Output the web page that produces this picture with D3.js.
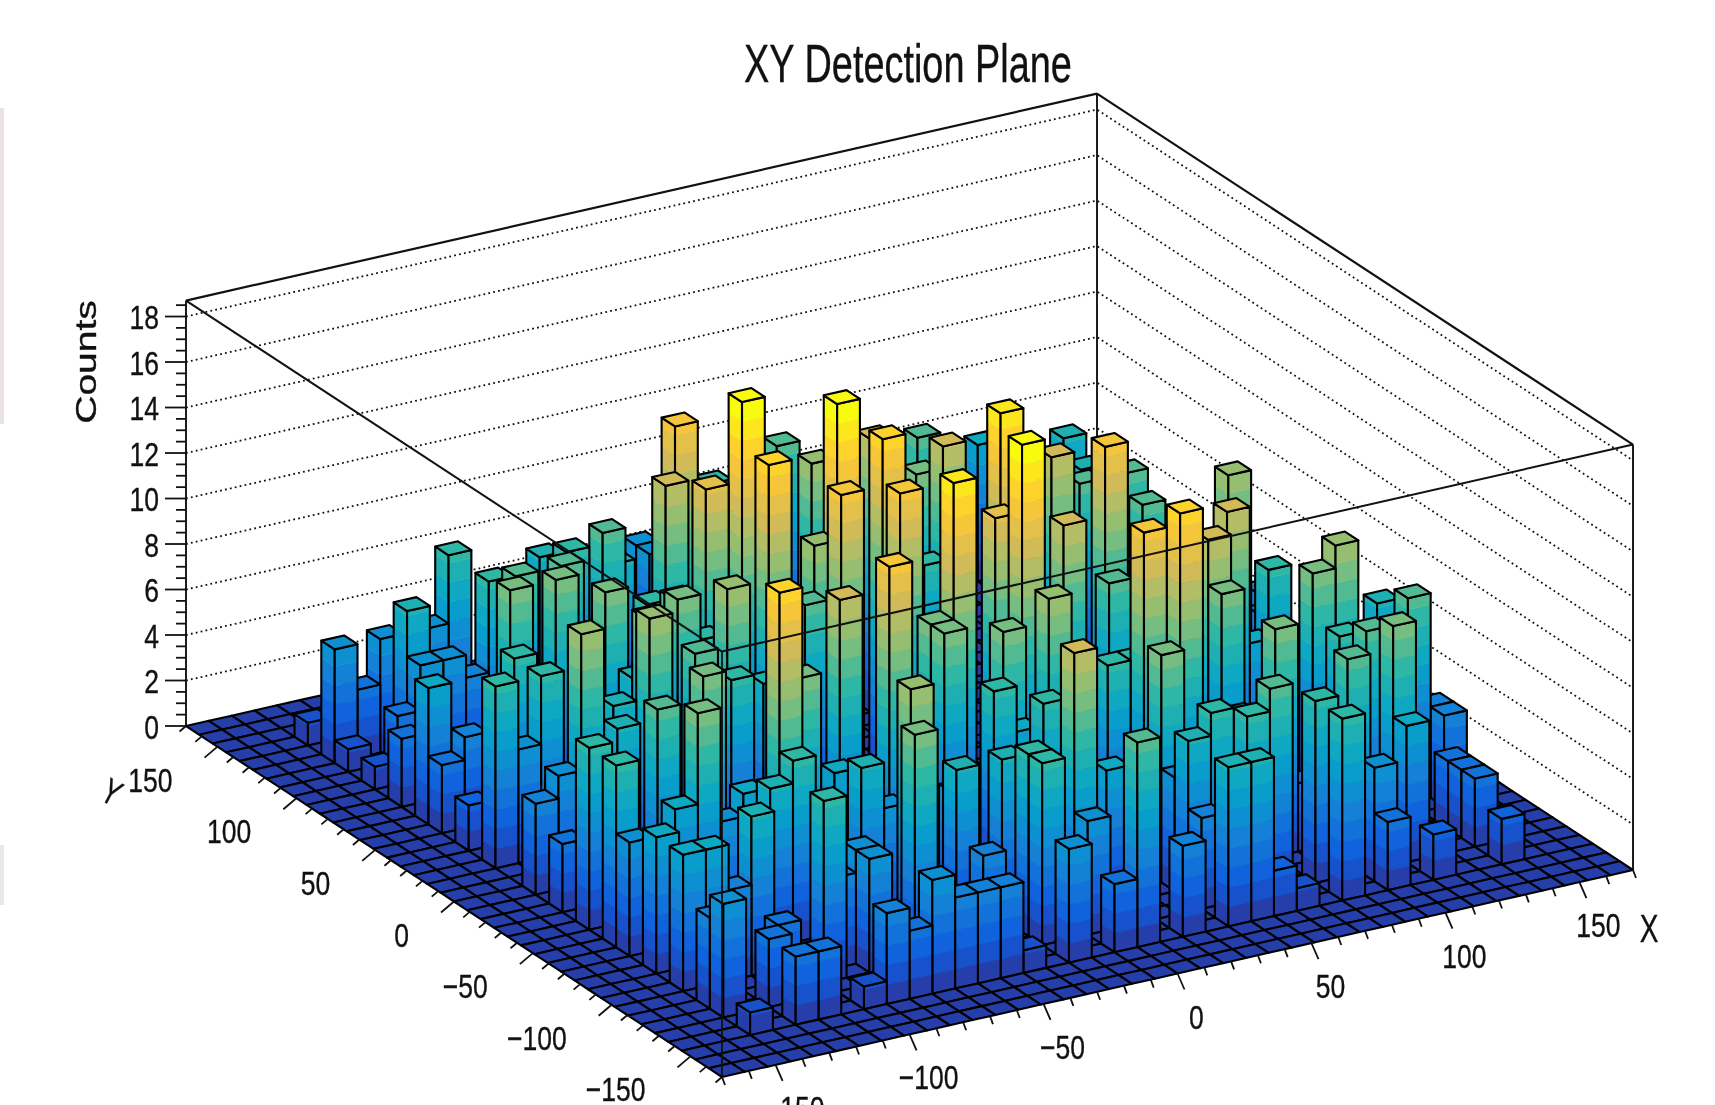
<!DOCTYPE html>
<html>
<head>
<meta charset="utf-8">
<script src="https://cdn.jsdelivr.net/npm/d3@7"></script>
<style>
body { margin: 0; background: #fff; overflow: hidden; }
svg { display: block; filter: blur(0.6px); }
text { font-family: "Liberation Sans", Arial, sans-serif; fill: #111; stroke: #111; stroke-width: 0.35px; }
</style>
</head>
<body>
<svg id="canvas" width="1715" height="1105"></svg>
<script>
// histogram, only the filled bins (bin numbers counted from the front corner)
const binX = [15,15,23,20,14,14,15,21,18,23,20,28,25,17,19,25,33,24,
  28,35,22,19,22,25,28,33,31,34,34,31,26,25,29,32,15,9,
  14,16,12,11,8,17,24,18,18,20,20,22,19,27,29,24,25,24,
  34,26,23,3,5,5,5,6,3,8,8,6,8,12,10,8,12,13,
  18,18,9,5,9,14,5,5,3,12,12,10,8,6,6,3,3,4,
  3,3,3,3,4,3,3,3,3,3,3,3,4,5,6,8,8,5,
  11,9,7,6,9,12,18,7,4,7,4,4,11,13,7,8,12,12,
  9,10,13,13,12,13,15,16,11,9,10,12,13,14,15,5,6,5,
  6,8,15,3,17,19,20,19,17,17,17,20,20,19,21,24,25,22,
  24,3,3,33,34,37,36,33,33,33,31,29,27,29,29,33,37,37,
  36,36,36,36,33,31,26,27,24,25,25,26,29,24,31,30,32,36,
  37,25,10];
const binY = [29,24,35,35,28,25,22,29,22,28,22,33,28,20,19,26,37,20,
  23,34,15,15,17,17,19,26,26,31,20,15,10,11,13,23,13,11,
  15,21,20,22,19,22,34,15,14,13,12,13,6,17,12,8,12,12,
  17,29,24,34,34,32,31,31,27,34,31,26,29,34,29,26,32,31,
  37,36,24,19,21,32,24,22,22,24,26,19,15,15,12,15,13,22,
  19,26,24,29,31,33,31,36,17,12,10,8,8,12,8,12,10,8,
  13,10,20,18,22,22,29,34,34,31,26,19,18,19,12,6,12,10,
  7,6,12,10,6,8,8,10,3,3,3,3,3,3,6,5,6,3,
  3,3,3,3,3,3,3,5,8,5,6,12,10,12,7,7,14,3,
  6,6,5,12,12,14,10,6,8,10,6,8,5,5,3,5,10,9,
  7,5,6,3,3,3,3,3,3,3,6,5,11,5,4,8,15,21,
  23,9,7];
const binCount = [14,17,9,8,12,13,15,11,17,12,15,9,10,14,14,12,6,16,
  12,7,17,16,13,12,14,9,9,7,11,12,15,14,12,9,14,15,
  12,9,11,10,11,11,6,10,10,10,10,11,12,9,10,10,8,8,
  8,7,8,5,5,7,5,5,6,8,8,10,9,7,9,10,8,9,
  5,5,10,11,10,7,8,8,8,9,8,9,10,9,10,8,8,5,
  4,3,2,3,3,1,1,1,3,5,6,6,6,6,7,6,7,4,
  10,8,7,7,7,8,4,5,3,4,4,5,8,7,5,8,6,7,
  4,5,4,5,10,11,7,5,5,4,3,4,4,4,4,3,3,3,
  3,1,1,1,5,3,9,5,7,8,8,6,8,8,6,5,4,4,
  7,4,5,10,11,7,9,10,9,8,9,10,9,8,8,6,4,4,
  3,3,3,2,2,3,2,1,7,7,8,8,5,4,5,3,6,4,
  4,4,5];

const xTicks = [-150, -100, -50, 0, 50, 100, 150];
const yTicks = [-150, -100, -50, 0, 50, 100, 150];
const zTicks = d3.range(0, 19, 2);
const binsPerAxis = 40;
const axisRange = [-170, 170];
const zMax = 17;      // top of the colour range
const zTop = 18.7;    // top of the box
const levels = 20;

// ROOT bird palette
const birdStops = [0, 0.125, 0.25, 0.375, 0.5, 0.625, 0.75, 0.875, 1];
const birdColors = ["#352a87", "#0f5cdd", "#1481d6", "#06a4ca", "#2eb7a4", "#87bf77", "#d1bb59", "#fec832", "#f9fb0e"];
const bird = d3.scaleLinear().domain(birdStops).range(birdColors);
const bandColor = k => bird(Math.min(k + 1, levels) / levels);
const levelStep = zMax / levels;

// box corners on the page
const front = [722, 1077];
const right = [1633, 870];
const left = [186, 726];
const boxHeight = 425.4;

const axisPos = d3.scaleLinear().domain(axisRange).range([0, 1]);
const zPx = d3.scaleLinear().domain([0, zTop]).range([0, boxHeight]);
const binEdge = d3.scaleLinear().domain([0, binsPerAxis]).range(axisRange);

const project = (x, y, z) => {
    const u = axisPos(x), v = axisPos(y);
    return [
        front[0] + u * (right[0] - front[0]) + v * (left[0] - front[0]),
        front[1] + u * (right[1] - front[1]) + v * (left[1] - front[1]) - zPx(z)
    ];
};
const polygon = d3.line().curve(d3.curveLinearClosed);

const canvas = d3.select("#canvas");

//Faint scan marks down the left edge of the reference
canvas.append("rect").attr("x", 0).attr("y", 108).attr("width", 4).attr("height", 316).attr("fill", "#ebe3e3");
canvas.append("rect").attr("x", 0).attr("y", 845).attr("width", 4).attr("height", 60).attr("fill", "#e8e8e8");

//Back walls and their dotted grid
const [xa, xb] = axisRange;
const grid = canvas.append("g").attr("fill", "none").attr("stroke", "#111");
grid.selectAll("path")
    .data(zTicks.filter(d => d > 0))
    .join("path")
    .attr("d", d => d3.line()([project(xa, xb, d), project(xb, xb, d), project(xb, xa, d)]))
    .attr("stroke-width", 1.8)
    .attr("stroke-dasharray", "1.8 3.2");

const drawEdge = (g, a, b, width) => g.append("line")
    .attr("x1", a[0]).attr("y1", a[1]).attr("x2", b[0]).attr("y2", b[1])
    .attr("stroke", "#111").attr("stroke-width", width);

const backBox = canvas.append("g");
drawEdge(backBox, project(xa, xb, 0), project(xa, xb, zTop), 1.9);
drawEdge(backBox, project(xb, xb, 0), project(xb, xb, zTop), 1.9);
drawEdge(backBox, project(xb, xa, 0), project(xb, xa, zTop), 1.9);
drawEdge(backBox, project(xa, xb, zTop), project(xb, xb, zTop), 2.2);
drawEdge(backBox, project(xb, xb, zTop), project(xb, xa, zTop), 2.2);

//All the bins, painted from the back corner to the front one
const countAt = new Map(binX.map((d, k) => [d + "_" + binY[k], binCount[k]]));
const cells = d3.cross(d3.range(binsPerAxis - 1, -1, -1), d3.range(binsPerAxis - 1, -1, -1));
const lego = canvas.append("g").attr("stroke-linejoin", "round");

cells.forEach(([i, j]) => {
    const c = countAt.get(i + "_" + j) || 0;
    const x0 = binEdge(i), x1 = binEdge(i + 1), y0 = binEdge(j), y1 = binEdge(j + 1);
    if (c > 0) {
        const top = Math.min(Math.floor(c / levelStep), levels - 1);
        // faces seen by the viewer: along y at x0 and along x at y0
        [[x0, y1, x0, y0], [x0, y0, x1, y0]].forEach(([ax, ay, bx, by]) => {
            for (let k = 0; k <= top; k++) {
                const z0 = k * levelStep, z1 = Math.min((k + 1) * levelStep, c);
                if (z1 <= z0) continue;
                lego.append("path")
                    .attr("d", polygon([project(ax, ay, z0), project(bx, by, z0), project(bx, by, z1), project(ax, ay, z1)]))
                    .attr("fill", bandColor(k))
                    .attr("stroke", bandColor(k))
                    .attr("stroke-width", 0.5);
            }
            lego.append("path")
                .attr("d", polygon([project(ax, ay, 0), project(bx, by, 0), project(bx, by, c), project(ax, ay, c)]))
                .attr("fill", "none")
                .attr("stroke", "#000")
                .attr("stroke-width", 2.1);
        });
    }
    const topIndex = c > 0 ? Math.min(Math.floor(c / levelStep), levels - 1) : 0;
    lego.append("path")
        .attr("d", polygon([project(x0, y0, c), project(x1, y0, c), project(x1, y1, c), project(x0, y1, c)]))
        .attr("fill", bandColor(topIndex))
        .attr("stroke", "#000")
        .attr("stroke-width", 2.1);
});

//Front edges of the box run over the bars
const frontBox = canvas.append("g");
drawEdge(frontBox, project(xa, xa, 0), project(xa, xa, zTop), 1.8);
drawEdge(frontBox, project(xa, xb, zTop), project(xa, xa, zTop), 2);
drawEdge(frontBox, project(xa, xa, zTop), project(xb, xa, zTop), 2);

//Ticks on the three axes
const axes = canvas.append("g");
d3.range(-170, 171, 10).forEach(v => {
    const major = v % 50 === 0;
    const px = project(v, xa, 0);
    drawEdge(axes, px, [px[0] + (major ? 7 : 3), px[1] + (major ? 16 : 8)], 1.8);
    const py = project(xa, v, 0);
    drawEdge(axes, py, [py[0] - (major ? 13 : 6.5), py[1] + (major ? 11 : 5.5)], 1.8);
});
d3.range(0, 18.6, 0.5).forEach(v => {
    const p = project(xa, xb, v);
    drawEdge(axes, p, [p[0] - (v % 2 === 0 ? 21 : 10), p[1]], 1.8);
});

// the reference is squeezed sideways, so every label carries its own x scale
const label = (txt, x, y, size, sx, anchor, rotate) => canvas.append("text")
    .attr("transform", `translate(${x},${y}) rotate(${rotate || 0}) scale(${sx},1)`)
    .attr("font-size", size)
    .attr("text-anchor", anchor)
    .text(txt);
const fmt = v => String(v).replace("-", "\u2212");

zTicks.forEach(d => {
    const p = project(xa, xb, d);
    label(fmt(d), 159, p[1] + 12.5, 34, 0.78, "end");
});
yTicks.forEach(d => {
    const p = project(xa, d, 0);
    label(fmt(d), p[0] - 45, p[1] + 45, 34, 0.78, "end");
});
xTicks.forEach(d => {
    const p = project(d, xa, 0);
    label(fmt(d), p[0] + 19, p[1] + 55, 34, 0.78, "middle");
});

label("XY Detection Plane", 908, 82, 53, 0.715, "middle");
label("Counts", 96, 362, 30, 1.3, "middle", -90);
label("X", 1649, 942, 39, 0.72, "middle");
label("Y", 106, 803, 36, 0.72, "middle", 28);
</script>
</body>
</html>
